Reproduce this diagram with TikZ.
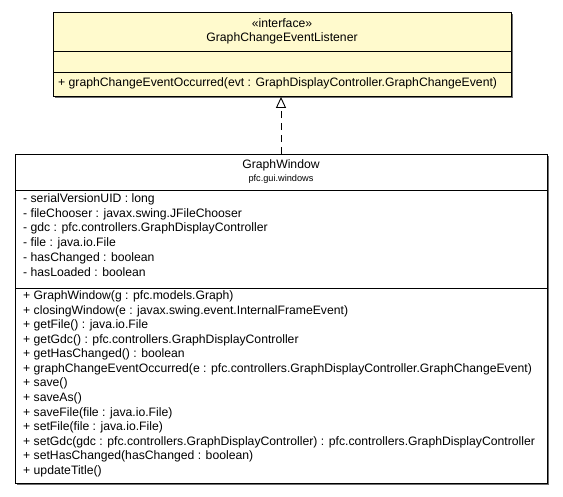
\documentclass[tikz,border=0pt]{standalone}
\usepackage{fontspec}
\setmainfont{Liberation Sans}
\usetikzlibrary{arrows.meta,shadows}
\definecolor{ifacefill}{RGB}{255,250,205}
\definecolor{shadowgray}{RGB}{110,110,110}
\tikzset{
  classbox/.style={draw=black, line width=0.9pt, anchor=north west, inner sep=0pt,
    drop shadow={shadow xshift=1.6pt, shadow yshift=-1.6pt, fill=shadowgray, opacity=1}},
  member/.style={anchor=west, inner sep=0pt, font=\fontsize{12.2}{14}\selectfont},
  title/.style={inner sep=0pt, font=\fontsize{12.2}{14}\selectfont},
  pkg/.style={inner sep=0pt, font=\fontsize{9.2}{11}\selectfont},
  sep/.style={draw=black, line width=0.9pt},
  realizes/.style={draw=black, line width=0.9pt, dash pattern=on 7pt off 5pt,
    -{Triangle[open, width=10pt, length=11pt, line width=0.9pt]}}
}
\begin{document}
\begin{tikzpicture}[x=1pt,y=-1pt]
\useasboundingbox (0,0) rectangle (563,496);

% interface box
\node[classbox, fill=ifacefill, minimum width=458pt, minimum height=84pt] (iface) at (53,12) {};
\node[title] (istereo) at (282,23) {«interface»};
\node[title] (iname) at (282,38) {GraphChangeEventListener};
\draw[sep] (53,51) -- (511,51);
\draw[sep] (53,72) -- (511,72);
\node[member] (im1) at (58,83.5) {+ graphChangeEventOccurred(evt : GraphDisplayController.GraphChangeEvent)};

% class box
\node[classbox, fill=white, minimum width=532pt, minimum height=329pt] (win) at (15,154) {};
\node[title] (wname) at (281,165) {GraphWindow};
\node[pkg] (wpkg) at (281,179) {pfc.gui.windows};
\draw[sep] (15,190) -- (547,190);
\draw[sep] (15,288) -- (547,288);

\foreach \t [count=\i] in {
  - serialVersionUID : long,
  - fileChooser : javax.swing.JFileChooser,
  - gdc : pfc.controllers.GraphDisplayController,
  - file : java.io.File,
  - hasChanged : boolean,
  - hasLoaded : boolean}
  \node[member] (attr\i) at (23,{199.5+(\i-1)*14.6}) {\t};

\foreach \t [count=\i] in {
  + GraphWindow(g : pfc.models.Graph),
  + closingWindow(e : javax.swing.event.InternalFrameEvent),
  + getFile() : java.io.File,
  + getGdc() : pfc.controllers.GraphDisplayController,
  + getHasChanged() : boolean,
  + graphChangeEventOccurred(e : pfc.controllers.GraphDisplayController.GraphChangeEvent),
  + save(),
  + saveAs(),
  + saveFile(file : java.io.File),
  + setFile(file : java.io.File),
  + setGdc(gdc : pfc.controllers.GraphDisplayController) : pfc.controllers.GraphDisplayController,
  + setHasChanged(hasChanged : boolean),
  + updateTitle()}
  \node[member] (op\i) at (23,{296.5+(\i-1)*14.55}) {\t};

% realization
\draw[realizes] (win.north -| 281,0) -- (iface.south -| 281,0);
\end{tikzpicture}
\end{document}
